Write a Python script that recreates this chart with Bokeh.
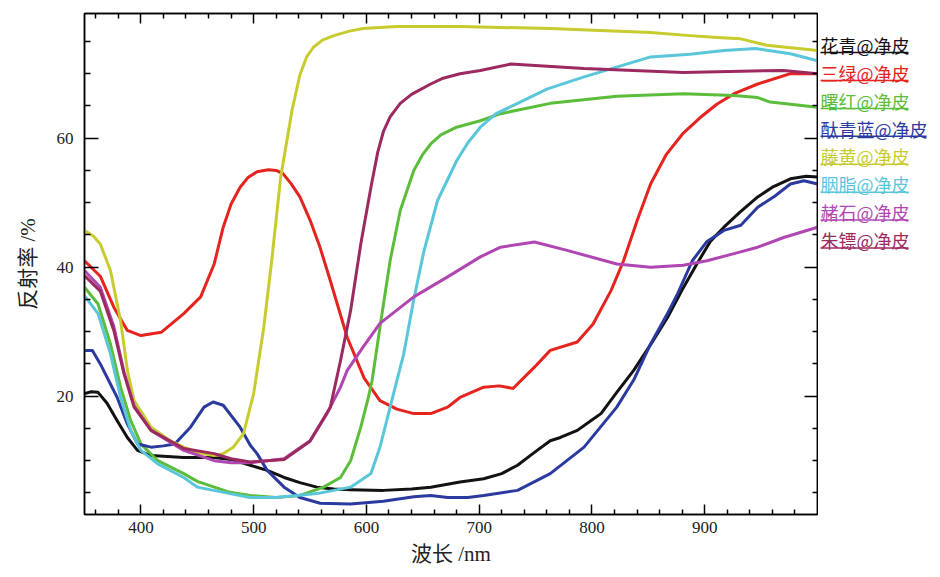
from bokeh.plotting import figure
from bokeh.layouts import row
from bokeh.models import FixedTicker, LinearAxis, Range1d
from bokeh.core.properties import value
from bokeh.embed import file_html
from bokeh.resources import INLINE

# ---------------- data (wavelength nm, reflectance %) ----------------
wl_huaqing = [350, 356, 362, 370, 379, 388, 397, 409, 438, 465, 480, 497, 512, 527, 541, 556, 571, 586, 615,
              640, 657, 683, 704, 720, 734, 749, 763, 772, 787, 799, 808, 822, 837, 852, 867, 880, 893, 905,
              917, 931, 947, 961, 976, 990, 1000]
r_huaqing = [20.4, 20.7, 20.6, 18.9, 16.2, 13.6, 11.6, 10.8, 10.5, 10.5, 10.2, 9.3, 8.5, 7.4, 6.6, 5.9, 5.6, 5.5,
             5.4, 5.6, 5.9, 6.7, 7.2, 8.0, 9.3, 11.3, 13.1, 13.6, 14.7, 16.2, 17.3, 20.6, 24.0, 28.0, 32.2, 36.5,
             40.5, 44.0, 46.2, 48.5, 50.9, 52.5, 53.7, 54.1, 54.0]

wl_sanlv = [350, 364, 376, 388, 400, 418, 438, 453, 465, 473, 480, 488, 495, 503, 513, 520, 526, 533, 541, 550,
            559, 568, 583, 598, 612, 627, 642, 657, 672, 683, 704, 718, 730, 749, 763, 787, 801, 817, 828, 840,
            852, 866, 881, 896, 911, 926, 947, 976, 1000]
r_sanlv = [41.0, 38.6, 33.8, 30.2, 29.4, 29.9, 32.8, 35.4, 40.5, 46.2, 49.8, 52.4, 53.9, 54.8, 55.1, 55.0, 54.5,
           53.0, 50.9, 47.3, 43.0, 37.9, 29.1, 22.8, 19.3, 18.0, 17.3, 17.3, 18.3, 19.8, 21.4, 21.6, 21.2, 24.5,
           27.1, 28.4, 31.2, 36.4, 41.0, 47.2, 52.9, 57.5, 60.8, 63.2, 65.3, 66.9, 68.4, 70.0, 70.0]

wl_shuhong = [350, 362, 373, 382, 391, 400, 415, 438, 450, 479, 497, 520, 541, 562, 577, 586, 595, 601, 605, 612,
              621, 630, 642, 650, 657, 666, 680, 701, 719, 763, 822, 881, 926, 947, 958, 1000]
r_shuhong = [36.9, 34.3, 28.1, 21.4, 16.2, 12.6, 10.0, 8.0, 6.8, 5.1, 4.6, 4.3, 4.6, 5.9, 7.4, 10.0, 15.2, 19.3,
             22.4, 30.7, 41.0, 48.8, 55.0, 57.5, 59.1, 60.5, 61.7, 62.7, 63.8, 65.4, 66.5, 66.9, 66.6, 66.3, 65.6,
             64.8]

wl_taiqinglan = [350, 357, 364, 379, 388, 397, 409, 420, 430, 444, 456, 464, 473, 488, 497, 503, 512, 527, 541,
                 559, 586, 615, 642, 657, 672, 690, 704, 734, 763, 793, 822, 837, 852, 866, 876, 889, 902, 917,
                 932, 947, 962, 976, 988, 1000]
r_taiqinglan = [27.1, 27.1, 25.0, 19.8, 15.7, 12.6, 12.1, 12.3, 12.6, 15.2, 18.3, 19.1, 18.6, 15.2, 12.4, 11.1,
                8.5, 5.9, 4.3, 3.4, 3.3, 3.7, 4.4, 4.6, 4.3, 4.3, 4.6, 5.4, 8.0, 12.1, 18.3, 22.5, 28.1, 32.5, 35.9,
                41.0, 44.0, 45.7, 46.5, 49.3, 51.0, 52.9, 53.4, 52.9]

wl_tenghuang = [350, 358, 364, 373, 382, 388, 394, 409, 426, 438, 450, 458, 465, 473, 482, 491, 500, 509, 516,
                524, 534, 541, 547, 553, 561, 571, 585, 597, 627, 683, 763, 852, 887, 911, 932, 955, 1000]
r_tenghuang = [45.7, 44.8, 43.6, 39.5, 31.7, 24.0, 19.3, 15.2, 13.1, 12.1, 11.3, 11.0, 10.8, 11.1, 12.1, 14.2,
               20.4, 30.7, 41.0, 54.0, 64.3, 69.8, 72.6, 74.1, 75.2, 75.9, 76.6, 77.0, 77.3, 77.3, 77.0, 76.4,
               75.9, 75.6, 75.4, 74.4, 73.6]

wl_yanzhi = [350, 362, 373, 382, 391, 400, 415, 438, 450, 479, 497, 520, 556, 586, 604, 612, 618, 627, 633, 642,
             651, 663, 680, 690, 701, 715, 734, 760, 793, 852, 887, 917, 945, 976, 1000]
r_yanzhi = [35.6, 32.8, 26.6, 19.8, 14.7, 11.6, 9.5, 7.4, 5.9, 4.9, 4.3, 4.3, 4.9, 5.9, 8.0, 12.1, 16.2, 22.4,
            26.5, 35.0, 42.5, 50.3, 56.5, 59.3, 61.7, 63.8, 65.4, 67.6, 69.5, 72.6, 73.0, 73.6, 73.9, 73.1, 72.0]

wl_zheshi = [350, 364, 376, 385, 394, 409, 438, 465, 480, 497, 527, 550, 565, 577, 583, 597, 612, 642, 672, 701,
             719, 749, 778, 822, 852, 881, 902, 926, 947, 970, 1000]
r_zheshi = [39.5, 36.9, 30.8, 23.8, 18.5, 14.7, 11.6, 10.0, 9.7, 9.7, 10.3, 13.1, 17.3, 21.4, 24.0, 27.6, 31.3,
            35.4, 38.5, 41.6, 43.1, 43.9, 42.6, 40.5, 40.0, 40.3, 41.0, 42.1, 43.1, 44.6, 46.2]

wl_zhubiao = [350, 364, 376, 385, 394, 409, 438, 465, 480, 497, 527, 550, 568, 577, 586, 595, 604, 610, 615, 621,
              630, 640, 657, 668, 683, 701, 728, 793, 881, 970, 1000]
r_zhubiao = [38.7, 36.3, 30.2, 23.5, 18.3, 14.7, 11.9, 11.1, 10.3, 9.8, 10.2, 13.0, 18.3, 25.5, 33.3, 43.6, 52.4,
             57.8, 61.0, 63.3, 65.4, 66.8, 68.4, 69.3, 70.0, 70.5, 71.5, 70.8, 70.2, 70.5, 70.0]

series_names = ["花青@净皮", "三绿@净皮", "曙红@净皮", "酞青蓝@净皮", "藤黄@净皮", "胭脂@净皮", "赭石@净皮", "朱镖@净皮"]
series_colors = ["#121212", "#e5231f", "#5cbd3a", "#2b3a9e", "#c8cb2e", "#5ac6da", "#b046b2", "#9c2a60"]
series_wl = [wl_huaqing, wl_sanlv, wl_shuhong, wl_taiqinglan, wl_tenghuang, wl_yanzhi, wl_zheshi, wl_zhubiao]
series_r = [r_huaqing, r_sanlv, r_shuhong, r_taiqinglan, r_tenghuang, r_yanzhi, r_zheshi, r_zhubiao]

x_major = [400, 500, 600, 700, 800, 900]
x_minor = [360, 380, 420, 440, 460, 480, 520, 540, 560, 580, 620, 640, 660, 680, 720, 740, 760, 780,
           820, 840, 860, 880, 920, 940, 960, 980]
y_major = [20, 40, 60]
y_minor = [5, 10, 15, 25, 30, 35, 45, 50, 55, 65, 70, 75]

# ---------------- main plot ----------------
p = figure(width=818, height=577, x_range=Range1d(350, 1000), y_range=Range1d(1.66, 79.33),
           output_backend="svg", toolbar_location=None,
           min_border_left=84, min_border_right=1, min_border_top=13, min_border_bottom=63,
           x_axis_label="波长 /nm", y_axis_label="反射率 /%")
p.background_fill_color = "white"
p.border_fill_color = "white"
p.outline_line_color = "black"
p.outline_line_width = 1.5
p.xgrid.visible = False
p.ygrid.visible = False

for wl, rr, c in zip(series_wl, series_r, series_colors):
    p.line(wl, rr, line_color=c, line_width=3, line_join="round")

label_font = "Liberation Serif, Noto Sans CJK SC"


def style_axis(ax, major_in, minor_in, labels=True):
    ax.axis_line_color = "black"
    ax.axis_line_width = 1.5
    ax.major_tick_line_color = "black"
    ax.minor_tick_line_color = "black"
    ax.major_tick_line_width = 1.5
    ax.minor_tick_line_width = 1.5
    ax.major_tick_in = major_in
    ax.major_tick_out = 0
    ax.minor_tick_in = minor_in
    ax.minor_tick_out = 0
    if labels:
        ax.major_label_text_font = "Liberation Serif"
        ax.major_label_text_font_size = "17px"
        ax.major_label_text_color = "#222222"
        ax.axis_label_text_font = label_font
        ax.axis_label_text_font_size = "21px"
        ax.axis_label_text_font_style = "normal"
        ax.axis_label_text_color = "#222222"
    else:
        ax.major_label_text_color = None
        ax.major_label_text_font_size = "1px"
        ax.major_label_standoff = 0


p.xaxis.ticker = FixedTicker(ticks=x_major, minor_ticks=x_minor)
p.yaxis.ticker = FixedTicker(ticks=y_major, minor_ticks=y_minor)
style_axis(p.xaxis[0], 10, 5)
style_axis(p.yaxis[0], 14, 6)
p.xaxis[0].major_label_standoff = 7
p.xaxis[0].axis_label_standoff = 6
p.yaxis[0].major_label_standoff = 11
p.yaxis[0].axis_label_standoff = 14

top_ax = LinearAxis(ticker=FixedTicker(ticks=x_major, minor_ticks=x_minor))
style_axis(top_ax, 10, 5, labels=False)
p.add_layout(top_ax, "above")
right_ax = LinearAxis(ticker=FixedTicker(ticks=y_major, minor_ticks=y_minor))
style_axis(right_ax, 13, 5, labels=False)
p.add_layout(right_ax, "right")

# ---------------- legend panel ----------------
q = figure(width=122, height=577, x_range=Range1d(0, 122), y_range=Range1d(577, 0),
           output_backend="svg", toolbar_location=None, x_axis_type=None, y_axis_type=None,
           min_border=0)
q.outline_line_color = None
q.background_fill_color = "white"
q.border_fill_color = "white"

leg_x0 = 2
leg_y0 = 36
leg_step = 32.15
font_px = 18
ys = [leg_y0 + i * leg_step for i in range(len(series_names))]
widths = [(len(n) - 1) * font_px + 16 for n in series_names]
q.text(x=[leg_x0] * len(series_names), y=ys, text=series_names, text_color=series_colors,
       text_font=value("Noto Sans CJK SC"), text_font_size=f"{font_px}px",
       text_baseline="middle", text_align="left")
q.segment(x0=[leg_x0] * len(series_names), x1=[leg_x0 + w for w in widths],
          y0=[y + 9 for y in ys], y1=[y + 9 for y in ys], line_color=series_colors, line_width=1.5)

layout = row(p, q, spacing=0)
open("out.html", "w").write(file_html(layout, INLINE))
